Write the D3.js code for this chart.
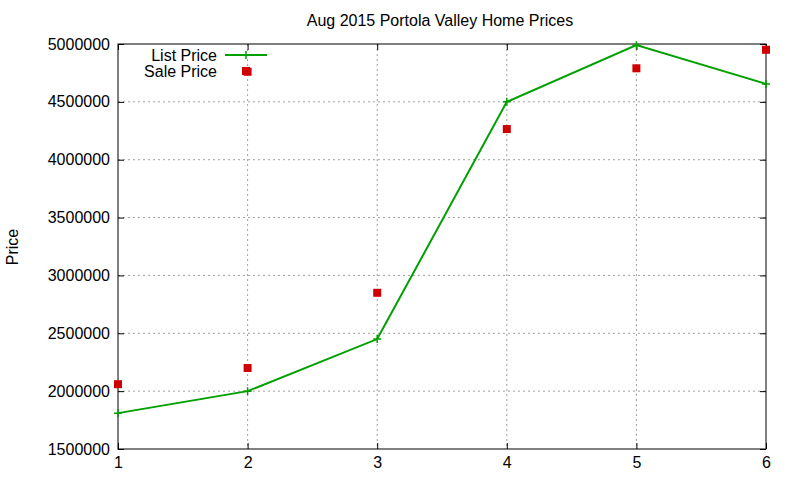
<!DOCTYPE html>
<html>
<head>
<meta charset="UTF-8">
<script src="https://d3js.org/d3.v7.min.js"></script>
<style>body{margin:0;background:#fff}text{font-family:"Liberation Sans",Arial,sans-serif}</style>
</head>
<body>
<svg></svg>
<script>
const w = 800, h = 480;
const listX = [1, 2, 3, 4, 5, 6];
const listPrice = [1810000, 2000000, 2450000, 4500000, 4990000, 4655000];
const saleX = [1, 2, 2, 3, 4, 5, 6];
const salePrice = [2060000, 2200000, 4760000, 2850000, 4265000, 4790000, 4950000];
const yTicks = [1500000, 2000000, 2500000, 3000000, 3500000, 4000000, 4500000, 5000000];
const xTicks = [1, 2, 3, 4, 5, 6];

const svg = d3.select("svg").attr("width", w).attr("height", h);
const x = d3.scaleLinear().domain([1, 6]).range([118, 766]);
const y = d3.scaleLinear().domain([1500000, 5000000]).range([449, 44]);
const fs = 16;

// grid
svg.append("g").selectAll("line").data(xTicks.slice(1, -1)).join("line")
    .attr("x1", d => x(d)).attr("x2", d => x(d)).attr("y1", 44).attr("y2", 449)
    .attr("stroke", "#a0a0a0").attr("stroke-dasharray", "2,3");
svg.append("g").selectAll("line").data(yTicks.slice(1, -1)).join("line")
    .attr("x1", 118).attr("x2", 766).attr("y1", d => y(d)).attr("y2", d => y(d))
    .attr("stroke", "#a0a0a0").attr("stroke-dasharray", "2,3");

svg.append("rect").attr("x", 118).attr("y", 44).attr("width", 648).attr("height", 405)
    .attr("fill", "none").attr("stroke", "#000");

// axes
const ya = svg.append("g").attr("transform", "translate(118,0)")
    .call(d3.axisLeft(y).tickValues(yTicks).tickSize(-6).tickPadding(8).tickFormat(d3.format("d")));
const xa = svg.append("g").attr("transform", "translate(0,449)")
    .call(d3.axisBottom(x).tickValues(xTicks).tickSize(-6).tickPadding(8).tickFormat(d3.format("d")));
[ya, xa].forEach(a => {
    a.select(".domain").remove();
    a.selectAll("text").attr("font-size", fs).attr("fill", "#000").attr("font-family", "Liberation Sans, Arial, sans-serif");
});
svg.append("g").attr("transform", "translate(766,0)")
    .call(d3.axisRight(y).tickValues(yTicks).tickSize(-6).tickFormat(""))
    .select(".domain").remove();
svg.append("g").attr("transform", "translate(0,44)")
    .call(d3.axisTop(x).tickValues(xTicks).tickSize(-6).tickFormat(""))
    .select(".domain").remove();

svg.append("text").attr("x", 440).attr("y", 26).attr("text-anchor", "middle")
    .attr("font-size", fs).text("Aug 2015 Portola Valley Home Prices");
svg.append("text").attr("transform", "translate(18,247) rotate(-90)").attr("text-anchor", "middle")
    .attr("font-size", fs).text("Price");

const green = "#00a000", red = "#d00000";
const list = listX.map((d, i) => [d, listPrice[i]]);
svg.append("path").datum(list).attr("fill", "none").attr("stroke", green).attr("stroke-width", 2)
    .attr("d", d3.line().x(d => x(d[0])).y(d => y(d[1])));
const plus = (g, cx, cy) => g.append("path")
    .attr("d", `M${cx - 4},${cy}H${cx + 4}M${cx},${cy - 4}V${cy + 4}`)
    .attr("stroke", green).attr("stroke-width", 1.5);
list.forEach(d => plus(svg, x(d[0]), y(d[1])));

svg.append("g").selectAll("rect").data(saleX.map((d, i) => [d, salePrice[i]])).join("rect")
    .attr("x", d => x(d[0]) - 4).attr("y", d => y(d[1]) - 4).attr("width", 8).attr("height", 8)
    .attr("fill", red);

// legend
svg.append("text").attr("x", 217).attr("y", 61).attr("text-anchor", "end").attr("font-size", fs).text("List Price");
svg.append("line").attr("x1", 225).attr("x2", 267).attr("y1", 55).attr("y2", 55).attr("stroke", green).attr("stroke-width", 2);
plus(svg, 246, 55);
svg.append("text").attr("x", 217).attr("y", 77).attr("text-anchor", "end").attr("font-size", fs).text("Sale Price");
svg.append("rect").attr("x", 242).attr("y", 67).attr("width", 8).attr("height", 8).attr("fill", red);
</script>
</body>
</html>
